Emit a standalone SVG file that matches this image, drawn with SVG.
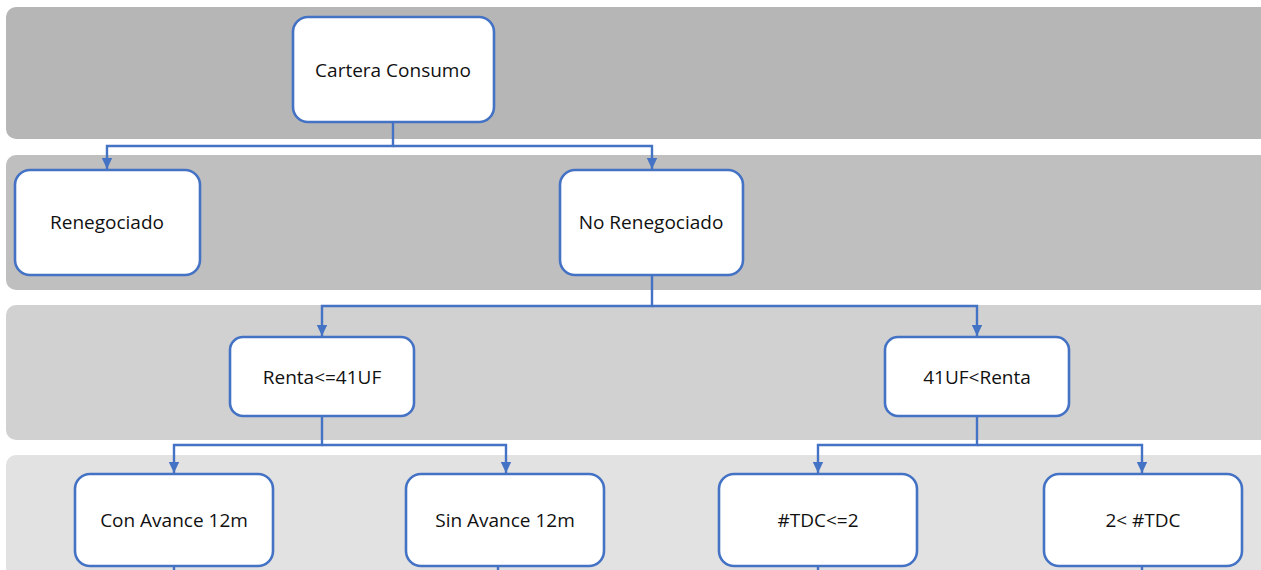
<svg xmlns="http://www.w3.org/2000/svg" width="1261" height="570" viewBox="0 0 1261 570">
<defs>
<style>
.band{stroke:none}
.node rect{fill:#ffffff;stroke:#4472c4;stroke-width:2.6}
.node text{font-family:"Open Sans","Liberation Sans",sans-serif;font-size:19px;fill:#111;text-anchor:middle;dominant-baseline:central}
.conn{fill:none;stroke:#4472c4;stroke-width:2.4}
</style>
<marker id="arr" markerUnits="userSpaceOnUse" markerWidth="12" markerHeight="12" viewBox="0 0 12 12" refX="11" refY="6" orient="auto">
<path d="M0,0.8 L11,6 L0,11.2 Z" fill="#4472c4"/>
</marker>
</defs>
<rect width="1261" height="570" fill="#ffffff"/>
<g id="bands">
<rect class="band" x="6" y="7" width="1280" height="132" rx="10" fill="#b6b6b6"/>
<rect class="band" x="6" y="155" width="1280" height="135" rx="10" fill="#bfbfbf"/>
<rect class="band" x="6" y="305" width="1280" height="135" rx="10" fill="#d1d1d1"/>
<rect class="band" x="6" y="455" width="1280" height="135" rx="10" fill="#e2e2e2"/>
</g>
<g id="connectors">
<path class="conn" d="M393,122 V146 H107 V169" marker-end="url(#arr)"/>
<path class="conn" d="M393,146 H652 V169" marker-end="url(#arr)"/>
<path class="conn" d="M652,275 V306 H322 V336" marker-end="url(#arr)"/>
<path class="conn" d="M652,306 H977 V336" marker-end="url(#arr)"/>
<path class="conn" d="M322,416 V445 H174 V473" marker-end="url(#arr)"/>
<path class="conn" d="M322,445 H506 V473" marker-end="url(#arr)"/>
<path class="conn" d="M977,416 V445 H818 V473" marker-end="url(#arr)"/>
<path class="conn" d="M977,445 H1142 V473" marker-end="url(#arr)"/>
<path class="conn" d="M174,566 V575"/>
<path class="conn" d="M498,566 V575"/>
<path class="conn" d="M818,566 V575"/>
<path class="conn" d="M1142,566 V575"/>
</g>
<g id="n-cartera" class="node"><rect x="293" y="17" width="201" height="105" rx="15"/><text x="393" y="70">Cartera Consumo</text></g>
<g id="n-reneg" class="node"><rect x="15" y="170" width="185" height="105" rx="15"/><text x="107" y="222">Renegociado</text></g>
<g id="n-noreneg" class="node"><rect x="560" y="170" width="183" height="105" rx="15"/><text x="651" y="222">No Renegociado</text></g>
<g id="n-renta1" class="node"><rect x="230" y="337" width="184" height="79" rx="13"/><text x="322" y="377">Renta&lt;=41UF</text></g>
<g id="n-renta2" class="node"><rect x="885" y="337" width="184" height="79" rx="13"/><text x="977" y="377">41UF&lt;Renta</text></g>
<g id="n-con" class="node"><rect x="75" y="474" width="198" height="92" rx="15"/><text x="174" y="520">Con Avance 12m</text></g>
<g id="n-sin" class="node"><rect x="406" y="474" width="198" height="92" rx="15"/><text x="505" y="520">Sin Avance 12m</text></g>
<g id="n-tdc1" class="node"><rect x="719" y="474" width="198" height="92" rx="15"/><text x="818" y="520">#TDC&lt;=2</text></g>
<g id="n-tdc2" class="node"><rect x="1044" y="474" width="198" height="92" rx="15"/><text x="1143" y="520">2&lt; #TDC</text></g>
</svg>
